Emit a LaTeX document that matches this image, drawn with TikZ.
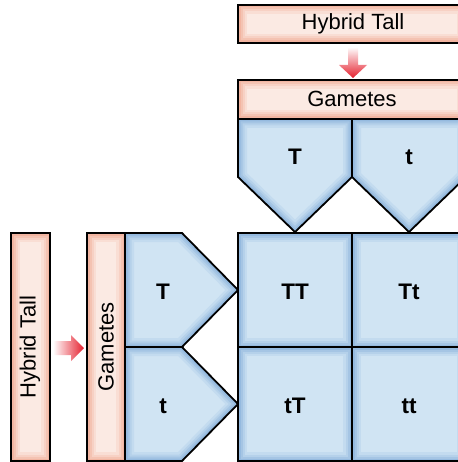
\documentclass[tikz,border=0pt]{standalone}
\usepackage{fontspec}
\setmainfont{Liberation Sans}
\definecolor{blueedge}{HTML}{88B1DB}
\definecolor{bluecore}{HTML}{D0E4F3}
\definecolor{pinkedge}{HTML}{F0A992}
\definecolor{pinkcore}{HTML}{FBEAE3}
\definecolor{arrowred}{HTML}{E5202E}
% filled shape with a soft inner bevel and a black outline
\newcommand\bevelfill[3]{%
  \begin{scope}
    \clip #3;
    \fill[#2] #3;
    \draw[line width=18pt,#2!82!#1] #3;
    \draw[line width=13pt,#2!62!#1] #3;
    \draw[line width=9pt,#2!40!#1] #3;
    \draw[line width=5pt,#2!18!#1] #3;
  \end{scope}
  \draw[line width=1.8pt,line join=miter] #3;}
\tikzset{
  lbl/.style={font=\fontsize{22}{24}\selectfont},
  allele/.style={font=\bfseries\fontsize{22.5}{24}\selectfont},
  redarrow/.style={top color=white,bottom color=arrowred,draw=none},
  redarrowh/.style={left color=white,right color=arrowred,draw=none}
}
\begin{document}
\begin{tikzpicture}[x=1pt,y=-1pt]
\useasboundingbox (0,0) rectangle (457,462);
\fill[white] (0,0) rectangle (457,462);

% top parent and its gametes
\bevelfill{pinkedge}{pinkcore}{(238,5) rectangle (466,43)}
\node[lbl] (topparent) at (353,24) {Hybrid Tall};
\shade[redarrow] (348,47) -- (358,47) -- (358,65) -- (367,65) -- (353,78) -- (339,65) -- (348,65) -- cycle;
\bevelfill{pinkedge}{pinkcore}{(238,80) rectangle (466,119)}
\node[lbl] (topgam) at (352,99) {Gametes};
\bevelfill{blueedge}{bluecore}{(238,119) -- (352,119) -- (352,177) -- (295,232) -- (238,177) -- cycle}
\bevelfill{blueedge}{bluecore}{(352,119) -- (466,119) -- (466,177) -- (409,232) -- (352,177) -- cycle}
\node[allele] (gT) at (295,157) {T};
\node[allele] (gt) at (409,157) {t};

% left parent and its gametes
\bevelfill{pinkedge}{pinkcore}{(11,233) rectangle (50,461)}
\node[lbl,rotate=90] (leftparent) at (30,347) {Hybrid Tall};
\shade[redarrowh] (53,341) -- (71,341) -- (71,335) -- (84,348) -- (71,361) -- (71,355) -- (53,355) -- cycle;
\bevelfill{pinkedge}{pinkcore}{(87,233) rectangle (125,461)}
\node[lbl,rotate=90] (leftgam) at (106,347) {Gametes};
\bevelfill{blueedge}{bluecore}{(125,233) -- (182,233) -- (238,290) -- (182,347) -- (125,347) -- cycle}
\bevelfill{blueedge}{bluecore}{(125,347) -- (182,347) -- (238,404) -- (182,461) -- (125,461) -- cycle}
\node[allele] (lT) at (163,292) {T};
\node[allele] (lt) at (163,406) {t};

% offspring grid
\bevelfill{blueedge}{bluecore}{(238,233) rectangle (352,347)}
\bevelfill{blueedge}{bluecore}{(352,233) rectangle (466,347)}
\bevelfill{blueedge}{bluecore}{(238,347) rectangle (352,461)}
\bevelfill{blueedge}{bluecore}{(352,347) rectangle (466,461)}
\node[allele] (TT) at (295,292) {TT};
\node[allele] (Tt) at (409,292) {Tt};
\node[allele] (tT) at (295,406) {tT};
\node[allele] (tt) at (409,406) {tt};
\end{tikzpicture}
\end{document}
